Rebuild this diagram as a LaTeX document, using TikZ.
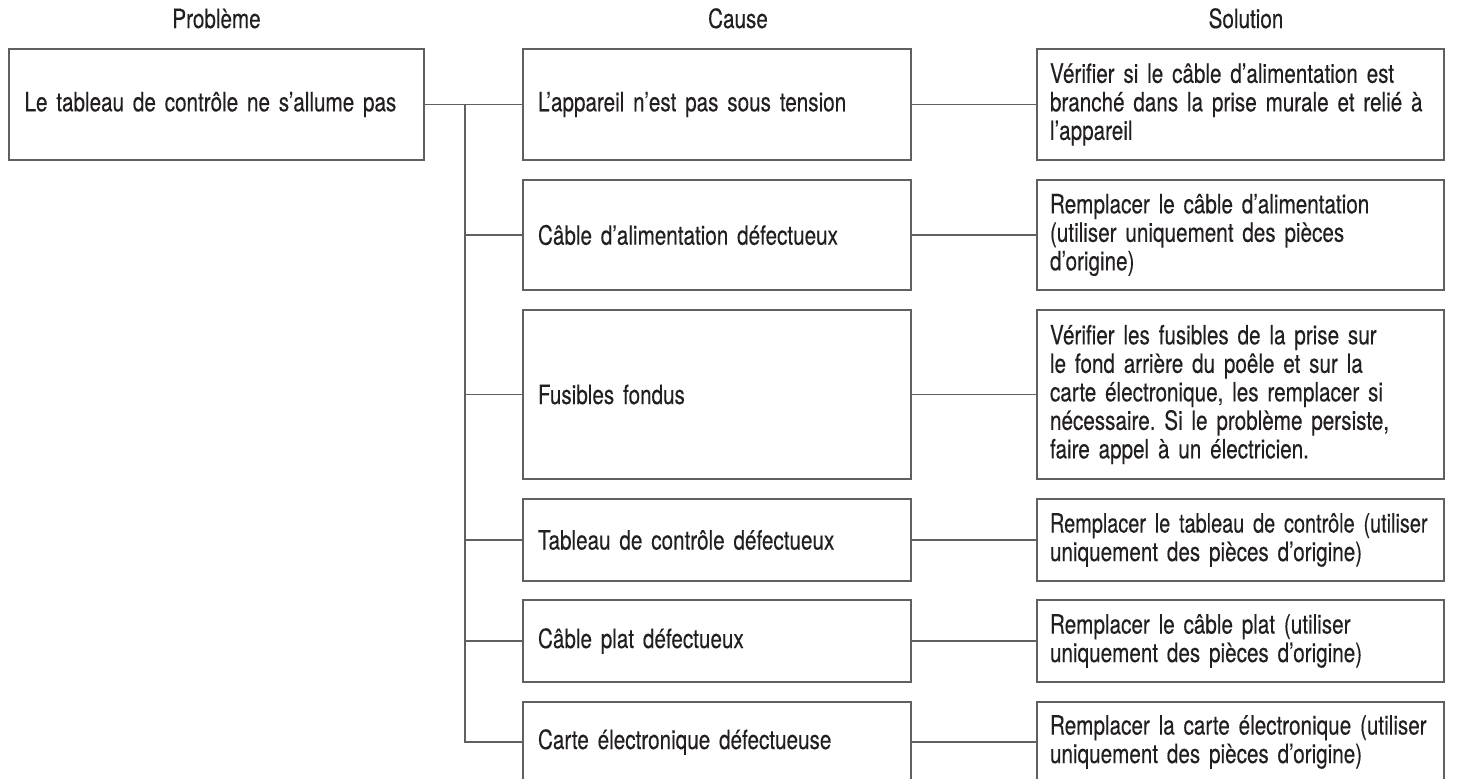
\documentclass[tikz,border=0pt]{standalone}
\usepackage{fontspec}
\setmainfont[FakeStretch=0.78, FakeBold=0.25]{TeX Gyre Heros}
\usepackage{tikz}
\usetikzlibrary{positioning, calc}
\definecolor{linegray}{RGB}{95, 96, 98}
\definecolor{inkblack}{RGB}{35, 31, 32}
\frenchspacing

\begin{document}
\begin{tikzpicture}[
  x=0.5pt, y=-0.5pt,
  every node/.style={font=\fontsize{13.25}{14.25}\selectfont, text=inkblack},
  execute at begin node={\parindent=0pt},
  head/.style={inner sep=0pt, anchor=base},
  probbox/.style={rectangle, draw=linegray, line width=0.75pt, text width=192pt, inner xsep=7.75pt, align=left},
  causebox/.style={rectangle, draw=linegray, line width=0.75pt, text width=179pt, inner xsep=7.5pt, align=left},
  solbox/.style={rectangle, draw=linegray, line width=0.75pt, text width=190.5pt, inner xsep=6.5pt, align=left},
  link/.style={draw=linegray, line width=0.75pt},
]
  \useasboundingbox (0,0) rectangle (1463,778);

  \node[head] (hprob) at (216.5,28) {Problème};
  \node[head] (hcause) at (738,28) {Cause};
  \node[head] (hsol) at (1246,28) {Solution};

  \node[probbox, minimum height=55.5pt] (prob) at (216.5,104.5) {Le tableau de contrôle ne s’allume pas};

  \node[causebox, minimum height=55.5pt] (c1) at (717,104.5) {L’appareil n’est pas sous tension};
  \node[causebox, minimum height=55pt] (c2) at (717,235) {Câble d’alimentation défectueux};
  \node[causebox, minimum height=84.5pt] (c3) at (717,394.5) {Fusibles fondus};
  \node[causebox, minimum height=41pt] (c4) at (717,540) {Tableau de contrôle défectueux};
  \node[causebox, minimum height=41pt] (c5) at (717,641) {Câble plat défectueux};
  \node[causebox, minimum height=40pt] (c6) at (717,742) {Carte électronique défectueuse};

  \node[solbox, minimum height=55.5pt] (s1) at (1240.5,104.5) {%
    Vérifier si le câble d’alimentation est\\
    branché dans la prise murale et relié à\\
    l’appareil};
  \node[solbox, minimum height=55pt] (s2) at (1240.5,235) {%
    Remplacer le câble d’alimentation\\
    (utiliser uniquement des pièces\\
    d’origine)};
  \node[solbox, minimum height=84.5pt] (s3) at (1240.5,394.5) {%
    Vérifier les fusibles de la prise sur\\
    le fond arrière du poêle et sur la\\
    carte électronique, les remplacer si\\
    nécessaire. Si le problème persiste,\\
    faire appel à un électricien.};
  \node[solbox, minimum height=41pt] (s4) at (1240.5,540) {%
    \mbox{\addfontfeature{FakeStretch=0.75}Remplacer le tableau de contrôle (utiliser}\\
    uniquement des pièces d’origine)};
  \node[solbox, minimum height=41pt] (s5) at (1240.5,641) {%
    Remplacer le câble plat (utiliser\\
    uniquement des pièces d’origine)};
  \node[solbox, minimum height=40pt] (s6) at (1240.5,742) {%
    Remplacer la carte électronique (utiliser\\
    uniquement des pièces d’origine)};

  \coordinate (split) at (465,104.5);
  \draw[link] (prob.east) -- (c1.west);
  \draw[link] (split) |- (c2.west);
  \draw[link] (split) |- (c3.west);
  \draw[link] (split) |- (c4.west);
  \draw[link] (split) |- (c5.west);
  \draw[link] (split) |- (c6.west);

  \draw[link] (c1.east) -- (s1.west);
  \draw[link] (c2.east) -- (s2.west);
  \draw[link] (c3.east) -- (s3.west);
  \draw[link] (c4.east) -- (s4.west);
  \draw[link] (c5.east) -- (s5.west);
  \draw[link] (c6.east) -- (s6.west);
\end{tikzpicture}
\end{document}
